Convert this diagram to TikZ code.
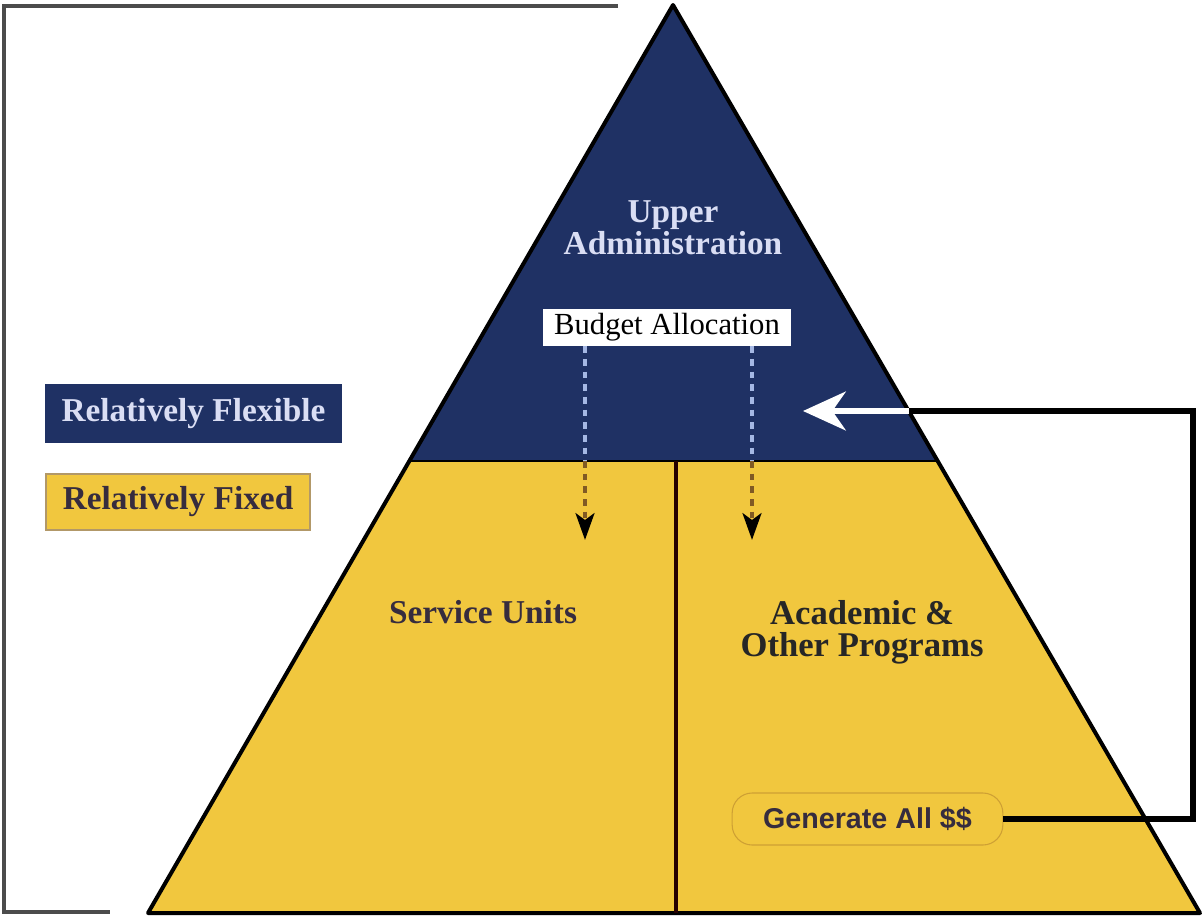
\documentclass[tikz,border=0pt]{standalone}
\usepackage{fontspec}
\setmainfont{Liberation Serif}
\newfontfamily\gensans{Liberation Sans}
\usetikzlibrary{arrows.meta}

\definecolor{navyblue}{RGB}{31,49,100}
\definecolor{pyrgold}{RGB}{241,199,62}
\definecolor{lavtext}{RGB}{218,222,244}
\definecolor{darktext}{RGB}{54,44,62}
\definecolor{dashsky}{RGB}{165,184,228}
\definecolor{dashbrown}{RGB}{128,90,36}
\definecolor{fixedrim}{RGB}{178,152,104}
\definecolor{genrim}{RGB}{206,160,52}

\tikzset{
  headtxt/.style={font=\bfseries\fontsize{25}{24}\selectfont, align=center, inner sep=0pt},
  legendbox/.style={font=\bfseries\fontsize{25}{24}\selectfont, inner sep=0pt},
  dashtop/.style={dashsky, line width=3.5pt, dash pattern=on 5pt off 4.5pt},
  dashlow/.style={dashbrown, line width=3.5pt, dash pattern=on 5pt off 4.5pt,
    -{Stealth[length=20pt,width=14pt,inset=5pt,black]}},
  loopline/.style={black, line width=4.5pt, line join=miter},
  whitearrow/.style={white, line width=4.5pt, -{Stealth[length=32pt,width=29pt,inset=10pt]}}
}

\begin{document}
\begin{tikzpicture}[x=0.75pt,y=0.75pt,yscale=-1,xscale=1]
\useasboundingbox (0,0) rectangle (1202,918);

%Shape: Bracket
\draw [color=black!70, line width=2.6pt] (618,6) -- (4,6) -- (4,912) -- (110,912);

%Shape: Triangle top
\fill [navyblue] (673,5) -- (937.7,461) -- (409.3,461) -- cycle;
%Shape: Trapezoid bottom
\fill [pyrgold] (409.3,461) -- (937.7,461) -- (1200,913) -- (148,913) -- cycle;
%Shape: Pyramid outline
\draw [black, line width=3pt, line join=round] (673,5) -- (1200,913) -- (148,913) -- cycle;
\draw [black, line width=2pt] (409.3,461) -- (937.7,461);
\draw [black!85!red, line width=3pt] (676,461) -- (676,913);

% Text Node
\node [headtxt, text=lavtext, anchor=north] (upper) at (673,200) {Upper\\Administration};
% Text Node
\node [fill=white, inner sep=0pt, minimum width=186pt, minimum height=27.75pt,
  font=\fontsize{23}{24}\selectfont] (budget) at (667,327.5) {Budget Allocation};
% Text Node
\node [headtxt, text=darktext, anchor=north] (service) at (483,600) {Service Units};
% Text Node
\node [headtxt, text=black!85, anchor=north, font=\bfseries\fontsize{26}{24}\selectfont] (academic) at (862,600) {Academic \&\\Other Programs};

%Legend
\node [legendbox, fill=navyblue, text=lavtext, minimum width=222.75pt, minimum height=44.25pt] (flexible) at (193.5,413.5) {Relatively Flexible};
\node [legendbox, fill=pyrgold, draw=fixedrim, line width=1pt, text=darktext, minimum width=198pt, minimum height=42pt] (fixed) at (178,502) {Relatively Fixed};

%Rounded Rect
\node [fill=pyrgold, draw=genrim, line width=0.8pt, rounded corners=15pt, minimum width=203pt, minimum height=39pt,
  text=darktext, font=\gensans\bfseries\fontsize{21.5}{22}\selectfont] (generate) at (867.5,819) {Generate All \$\$};

%Budget arrows
\coordinate (tier) at (673,461);
\coordinate (svcin) at (585,540);
\coordinate (acain) at (752,540);
\draw [dashtop] (budget.south -| svcin) -- (tier -| svcin);
\draw [dashlow] (tier -| svcin) -- (svcin);
\draw [dashtop] (budget.south -| acain) -- (tier -| acain);
\draw [dashlow] (tier -| acain) -- (acain);

%Feedback loop
\coordinate (loopcorner) at (1193,411);
\coordinate (edgein) at (909,411);
\coordinate (arrowtip) at (803,411);
\draw [loopline] (generate.east) -| (loopcorner) -- (edgein);
\draw [whitearrow] (edgein) -- (arrowtip);

\end{tikzpicture}
\end{document}
